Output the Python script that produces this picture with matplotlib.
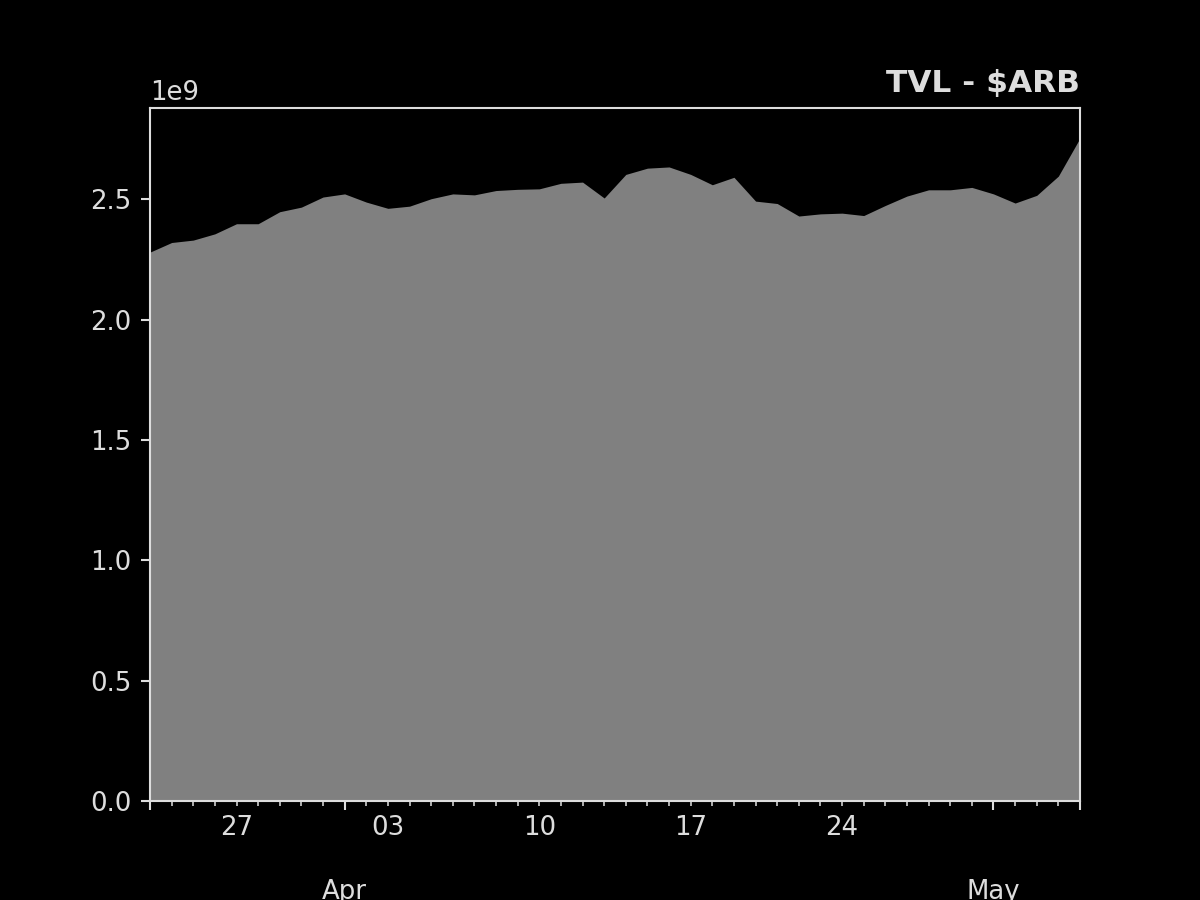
import datetime as dt
import matplotlib
matplotlib.use("Agg")
import matplotlib.pyplot as plt
import matplotlib.dates as mdates
import matplotlib.ticker as mticker
import pandas as pd

# daily TVL of Arbitrum, USD
dates = pd.date_range("2023-03-23", "2023-05-05", freq="D")
tvl = [2.281, 2.321, 2.331, 2.357, 2.399, 2.399, 2.449, 2.468, 2.510, 2.523,
       2.489, 2.463, 2.472, 2.503, 2.523, 2.519, 2.537, 2.542, 2.544, 2.567,
       2.572, 2.506, 2.604, 2.630, 2.635, 2.604, 2.561, 2.592, 2.493, 2.483,
       2.431, 2.440, 2.443, 2.433, 2.475, 2.514, 2.540, 2.540, 2.550, 2.523,
       2.485, 2.517, 2.597, 2.755]
tvl = [v * 1e9 for v in tvl]

fg = "#dddddd"
plt.rcParams.update({
    "figure.facecolor": "black", "axes.facecolor": "black",
    "axes.edgecolor": fg, "xtick.color": fg, "ytick.color": fg,
    "text.color": fg, "axes.labelcolor": fg,
})

fig, ax = plt.subplots(figsize=(6.4, 4.8))
ax.fill_between(dates, tvl, color="gray", linewidth=0)
ax.set_xlim(dates[0], dates[-1])
ax.set_ylim(0, 2.88e9)

# major ticks: month starts (plus the ends), minor: every day, label mondays
majors = [dates[0], dt.datetime(2023, 4, 1), dt.datetime(2023, 5, 1), dates[-1]]
ax.xaxis.set_major_locator(mticker.FixedLocator(mdates.date2num(majors)))
ax.xaxis.set_major_formatter(mticker.FixedFormatter(["", "\n\nApr", "\n\nMay", ""]))
ax.xaxis.set_minor_locator(mdates.DayLocator())

def monday_label(x, pos=None):
    d = mdates.num2date(x)
    return d.strftime("%d") if d.weekday() == 0 else ""

ax.xaxis.set_minor_formatter(mticker.FuncFormatter(monday_label))

ax.set_title("TVL - $ARB", loc="right", fontweight="bold")
fig.savefig("out.png", dpi=187.5)
